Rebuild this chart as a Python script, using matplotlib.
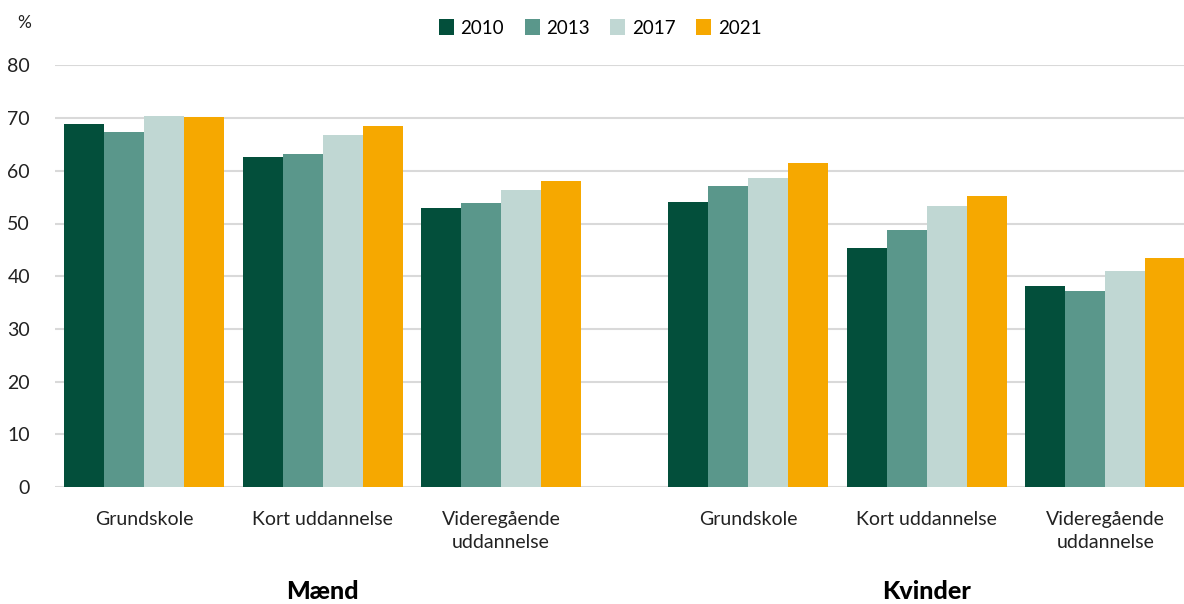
import numpy as np
import matplotlib.pyplot as plt

plt.rcParams['font.family'] = ['Lato', 'DejaVu Sans']

# data
years = ['2010', '2013', '2017', '2021']
educations = ['Grundskole', 'Kort uddannelse', 'Videregående\nuddannelse']
men = {
    '2010': [68.9, 62.6, 53.0],
    '2013': [67.4, 63.1, 53.9],
    '2017': [70.4, 66.8, 56.4],
    '2021': [70.3, 68.5, 58.0],
}
women = {
    '2010': [54.0, 45.3, 38.1],
    '2013': [57.1, 48.7, 37.1],
    '2017': [58.6, 53.4, 40.9],
    '2021': [61.4, 55.3, 43.5],
}
genders = ['Mænd', 'Kvinder']
colors = ['#034f3b', '#5a978b', '#c0d7d3', '#f6a800']

fig = plt.figure(figsize=(11.84, 6.04), dpi=100)
ax = fig.add_axes([55 / 1184, 1 - 487 / 604, 1 - 55 / 1184, (487 - 65.4) / 604])

men_x = np.arange(3)
women_x = np.arange(3) + 3.385
width = 0.224

for i, y in enumerate(years):
    off = (i - 1.5) * width
    ax.bar(men_x + off, men[y], width, color=colors[i], label=y, zorder=3)
    ax.bar(women_x + off, women[y], width, color=colors[i], zorder=3)

ax.set_xlim(-0.5, 5.826)
ax.set_ylim(0, 80)
ax.set_yticks(range(0, 81, 10))
ax.yaxis.grid(True, color='#d9d9d9', linewidth=1.5, zorder=0)
for s in ax.spines.values():
    s.set_visible(False)
ax.tick_params(axis='y', length=0, pad=18, labelsize=14, labelcolor='#222222')
ax.tick_params(axis='x', length=0, pad=17, labelsize=14, labelcolor='#222222')
ax.set_xticks(np.concatenate([men_x, women_x]))
ax.set_xticklabels(educations * 2, linespacing=1.45, va='top')

# gender labels below the groups
for x, g in zip([men_x.mean(), women_x.mean()], genders):
    ax.text(x, -19.9, g, ha='center', va='center', fontsize=18,
            fontweight='black', color='black')

fig.text(24 / 1184, 1 - 23 / 604, '%', ha='center', va='center',
         fontsize=12.5, color='#222222')

ax.legend(loc='center', bbox_to_anchor=(600 / 1184, 1 - 28 / 604), bbox_transform=fig.transFigure,
          ncol=4, frameon=False, fontsize=13.5, handlelength=0.8, handleheight=0.9,
          columnspacing=1.1, handletextpad=0.35)

fig.savefig('out.png', dpi=100)
